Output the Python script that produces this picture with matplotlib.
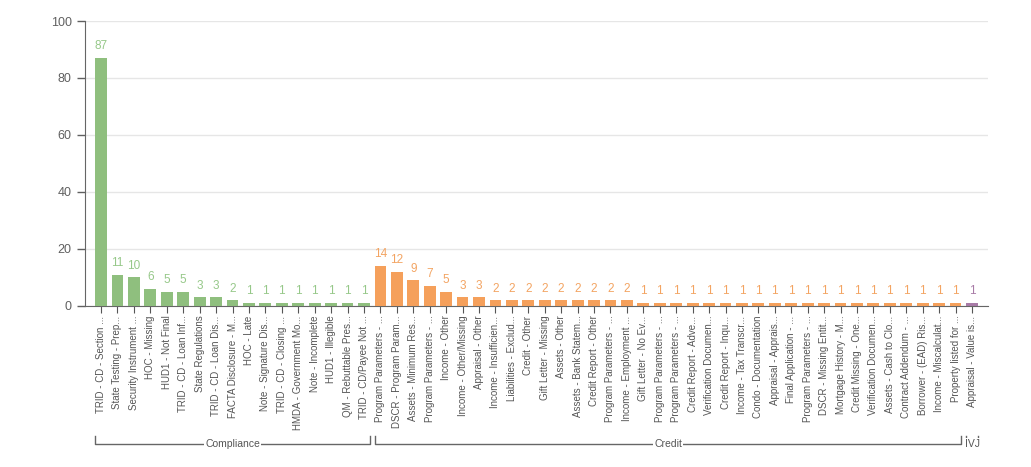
import matplotlib.pyplot as plt
import numpy as np

plt.rcParams['font.family'] = ['Liberation Sans', 'DejaVu Sans']

# data
compliance_labels = ["TRID - CD - Section ...", "State Testing - Prep...", "Security Instrument ...",
                     "HOC - Missing", "HUD1 - Not Final", "TRID - CD - Loan Inf...", "State Regulations",
                     "TRID - CD - Loan Dis...", "FACTA Disclosure - M...", "HOC - Late",
                     "Note - Signature Dis...", "TRID - CD - Closing ...", "HMDA - Government Mo...",
                     "Note - Incomplete", "HUD1 - Illegible", "QM - Rebuttable Pres...",
                     "TRID - CD/Payee Not ..."]
compliance_values = [87, 11, 10, 6, 5, 5, 3, 3, 2, 1, 1, 1, 1, 1, 1, 1, 1]

credit_labels = ["Program Parameters - ...", "DSCR - Program Param...", "Assets - Minimum Res...",
                 "Program Parameters - ...", "Income - Other", "Income - Other/Missing",
                 "Appraisal - Other", "Income - Insufficien...", "Liabilities - Exclud...",
                 "Credit - Other", "Gift Letter - Missing", "Assets - Other",
                 "Assets - Bank Statem...", "Credit Report - Other", "Program Parameters - ...",
                 "Income - Employment ...", "Gift Letter - No Ev...", "Program Parameters - ...",
                 "Program Parameters - ...", "Credit Report - Adve...", "Verification Documen...",
                 "Credit Report - Inqu...", "Income - Tax Transcr...", "Condo - Documentation",
                 "Appraisal - Apprais...", "Final Application - ...", "Program Parameters - ...",
                 "DSCR - Missing Entit...", "Mortgage History - M...", "Credit Missing - One...",
                 "Verification Documen...", "Assets - Cash to Clo...", "Contract Addendum - ...",
                 "Borrower - (EAD) Ris...", "Income - Miscalculat...", "Property listed for ..."]
credit_values = [14, 12, 9, 7, 5, 3, 3, 2, 2, 2, 2, 2, 2, 2, 2, 2,
                 1, 1, 1, 1, 1, 1, 1, 1, 1, 1, 1, 1, 1, 1, 1, 1, 1, 1, 1, 1]

ivj_labels = ["Appraisal - Value is..."]
ivj_values = [1]

groups = ["Compliance", "Credit", "IVJ"]
group_labels = [compliance_labels, credit_labels, ivj_labels]
group_values = [compliance_values, credit_values, ivj_values]
bar_colors = ["#8fbf7e", "#f5a05b", "#a87ba7"]
text_colors = ["#96c889", "#f3a462", "#a87ba7"]

fig = plt.figure(figsize=(10.31, 4.67), dpi=100)
ax = fig.add_axes([0.0824, 0.345, 0.876, 0.61])

bw = 0.72
pos = 0
all_labels = []
spans = []
for g, labels, values, bc, tc in zip(groups, group_labels, group_values, bar_colors, text_colors):
    x = np.arange(pos, pos + len(values))
    rects = ax.bar(x, values, width=bw, color=bc, zorder=3)
    for rect, v in zip(rects, values):
        ax.annotate(str(v), (rect.get_x() + rect.get_width() / 2, rect.get_height()),
                    xytext=(0, 4), textcoords='offset points', ha='center', va='bottom',
                    fontsize=8.5, color=tc)
    all_labels += labels
    spans.append((pos - bw / 2, pos + len(values) - 1 + bw / 2, g))
    pos += len(values)

n = len(all_labels)
ax.set_xlim(-0.98, n - 1 + 0.98)
ax.set_ylim(0, 100)
ax.set_yticks(range(0, 101, 20))
ax.set_xticks(range(n))
ax.set_xticklabels(all_labels, rotation=90, fontsize=7, color='#555555')
ax.tick_params(axis='y', labelsize=9, colors='#606060', length=6, width=1)
ax.tick_params(axis='x', length=5, width=0.8, colors='#555555', pad=2)
ax.grid(axis='y', color='#e6e6e6', linewidth=1, zorder=0)
for s in ['top', 'right']:
    ax.spines[s].set_visible(False)
ax.spines['left'].set_color('#666666')
ax.spines['bottom'].set_color('#666666')

# group brackets under the labels
trans = ax.get_xaxis_transform()
y_line = -0.485
y_tick = -0.455
for x0, x1, g in spans:
    ax.plot([x0, x0, x1, x1], [y_tick, y_line, y_line, y_tick], color='#666666',
            linewidth=1, transform=trans, clip_on=False)
    ax.text((x0 + x1) / 2, y_line, g, transform=trans, ha='center', va='center',
            fontsize=7.5, color='#555555',
            bbox=dict(facecolor='white', edgecolor='none', pad=0.5))

fig.savefig('out.png', dpi=100)
